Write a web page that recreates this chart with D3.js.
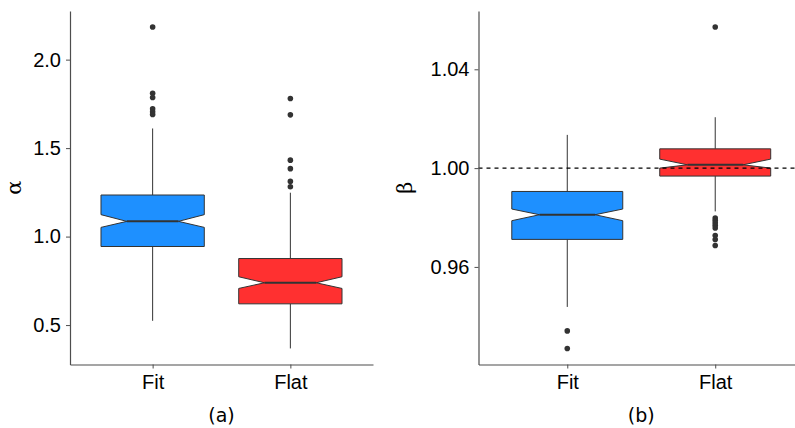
<!DOCTYPE html>
<html>
<head>
<meta charset="utf-8">
<script src="https://cdn.jsdelivr.net/npm/d3@7"></script>
<style>
  html, body { margin: 0; padding: 0; background: #fff; }
  svg { display: block; }
</style>
</head>
<body>
<svg id="chart" width="795" height="428"></svg>
<script>
// Groups shown on the x axis of both panels
const groups = ["Fit", "Flat"];

// Panel (a): alpha
const alphaQ1 = [0.944, 0.620];
const alphaNotchLo = [1.052, 0.707];
const alphaMedian = [1.086, 0.739];
const alphaNotchHi = [1.124, 0.773];
const alphaQ3 = [1.235, 0.876];
const alphaWhiskerLo = [0.524, 0.368];
const alphaWhiskerHi = [1.611, 1.248];
const alphaOutliers = [
  [2.184, 1.810, 1.786, 1.722, 1.705, 1.690],
  [1.780, 1.688, 1.432, 1.384, 1.312, 1.282]
];
const alphaTicks = [0.5, 1.0, 1.5, 2.0];

// Panel (b): beta
const betaQ1 = [0.97115, 0.99677];
const betaNotchLo = [0.97871, 1.0000];
const betaMedian = [0.98113, 1.00133];
const betaNotchHi = [0.98343, 1.00364];
const betaQ3 = [0.99055, 1.0078];
const betaWhiskerLo = [0.9438, 0.98247];
const betaWhiskerHi = [1.01345, 1.0206];
const betaOutliers = [
  [0.9341, 0.9270],
  [1.0571, 0.9798, 0.9789, 0.9779, 0.9769, 0.9758, 0.9727, 0.9711, 0.9687]
];
const betaTicks = [0.96, 1.00, 1.04];
const betaReference = 1.00;

const fills = ["#1E90FF", "#FF3030"];
const ink = "#333333";
const axisInk = "#4d4d4d";
const tickFont = "'Liberation Sans', Arial, sans-serif";

const svg = d3.select("#chart");

function drawPanel(opts) {
  const g = svg.append("g");
  const { xRange, yRange, stats, outliers, ticks, fmt, title, titleX, caption, refLine } = opts;

  // y domain spans whiskers and outliers with 5% padding each side
  const all = stats.whiskerLo.concat(stats.whiskerHi, outliers.flat());
  const lo = d3.min(all), hi = d3.max(all);
  const pad = (hi - lo) * 0.05;
  const y = d3.scaleLinear().domain([lo - pad, hi + pad]).range(yRange);
  const x = d3.scalePoint().domain(groups).range(xRange).padding(0.6);
  const boxW = x.step() * 0.75;
  const inset = boxW * 0.25;

  // whiskers
  groups.forEach((grp, i) => {
    const cx = x(grp);
    g.append("line").attr("x1", cx).attr("x2", cx)
      .attr("y1", y(stats.q3[i])).attr("y2", y(stats.whiskerHi[i]))
      .attr("stroke", ink).attr("stroke-width", 1);
    g.append("line").attr("x1", cx).attr("x2", cx)
      .attr("y1", y(stats.q1[i])).attr("y2", y(stats.whiskerLo[i]))
      .attr("stroke", ink).attr("stroke-width", 1);
  });

  // notched boxes
  groups.forEach((grp, i) => {
    const x0 = x(grp) - boxW / 2, x1 = x(grp) + boxW / 2;
    const p = d3.path();
    p.moveTo(x0, y(stats.q3[i]));
    p.lineTo(x1, y(stats.q3[i]));
    p.lineTo(x1, y(stats.notchHi[i]));
    p.lineTo(x1 - inset, y(stats.median[i]));
    p.lineTo(x1, y(stats.notchLo[i]));
    p.lineTo(x1, y(stats.q1[i]));
    p.lineTo(x0, y(stats.q1[i]));
    p.lineTo(x0, y(stats.notchLo[i]));
    p.lineTo(x0 + inset, y(stats.median[i]));
    p.lineTo(x0, y(stats.notchHi[i]));
    p.closePath();
    g.append("path").attr("d", p.toString())
      .attr("fill", fills[i]).attr("stroke", ink).attr("stroke-width", 1)
      .attr("stroke-linejoin", "miter");
    g.append("line")
      .attr("x1", x0 + inset).attr("x2", x1 - inset)
      .attr("y1", y(stats.median[i])).attr("y2", y(stats.median[i]))
      .attr("stroke", ink).attr("stroke-width", 2);
  });

  // outliers
  groups.forEach((grp, i) => {
    g.selectAll(null).data(outliers[i]).enter().append("circle")
      .attr("cx", x(grp)).attr("cy", d => y(d)).attr("r", 2.8)
      .attr("fill", ink);
  });

  // dashed reference line
  if (refLine !== undefined) {
    g.append("line")
      .attr("x1", xRange[0]).attr("x2", xRange[1])
      .attr("y1", y(refLine)).attr("y2", y(refLine))
      .attr("stroke", "#000").attr("stroke-width", 1.1)
      .attr("stroke-dasharray", "4,4");
  }

  // axes
  const yAxis = g.append("g").attr("transform", `translate(${xRange[0]},0)`)
    .call(d3.axisLeft(y).tickValues(ticks).tickFormat(d3.format(fmt))
      .tickSize(4).tickSizeOuter(0).tickPadding(5));
  const xAxis = g.append("g").attr("transform", `translate(0,${yRange[0]})`)
    .call(d3.axisBottom(x).tickSize(4).tickSizeOuter(0).tickPadding(6));
  [yAxis, xAxis].forEach(a => {
    a.select(".domain").attr("stroke", axisInk).attr("stroke-width", 1.2);
    a.selectAll(".tick line").attr("stroke", axisInk).attr("stroke-width", 1);
    a.selectAll(".tick text").attr("fill", "#000")
      .style("font-family", tickFont).style("font-size", "20px");
  });

  // axis title (greek letter)
  const midY = (yRange[0] + yRange[1]) / 2;
  g.append("text")
    .attr("transform", `translate(${titleX},${midY}) rotate(-90)`)
    .attr("text-anchor", "middle")
    .style("font-family", "'DejaVu Serif', serif").style("font-size", "21px")
    .text(title);

  // panel caption
  g.append("text")
    .attr("x", (xRange[0] + xRange[1]) / 2).attr("y", 422)
    .attr("text-anchor", "middle")
    .style("font-family", "'DejaVu Sans', sans-serif").style("font-size", "19px")
    .text(caption);
}

drawPanel({
  xRange: [70, 373], yRange: [364.5, 11],
  stats: { q1: alphaQ1, notchLo: alphaNotchLo, median: alphaMedian, notchHi: alphaNotchHi,
           q3: alphaQ3, whiskerLo: alphaWhiskerLo, whiskerHi: alphaWhiskerHi },
  outliers: alphaOutliers, ticks: alphaTicks, fmt: ".1f",
  title: "α", titleX: 21, caption: "(a)"
});

drawPanel({
  xRange: [478.5, 804], yRange: [364.5, 11],
  stats: { q1: betaQ1, notchLo: betaNotchLo, median: betaMedian, notchHi: betaNotchHi,
           q3: betaQ3, whiskerLo: betaWhiskerLo, whiskerHi: betaWhiskerHi },
  outliers: betaOutliers, ticks: betaTicks, fmt: ".2f",
  title: "β", titleX: 412, caption: "(b)", refLine: betaReference
});
</script>
</body>
</html>
